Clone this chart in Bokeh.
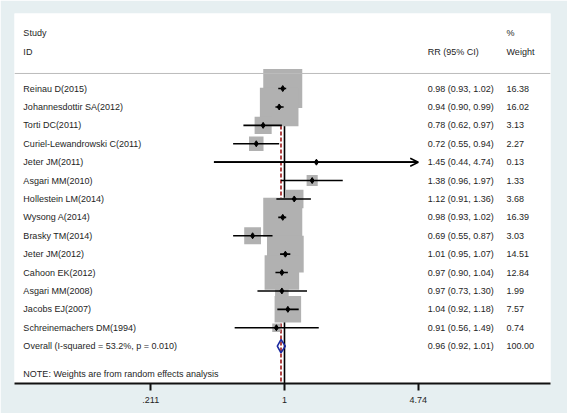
import math
from bokeh.plotting import figure
from bokeh.models import Range1d, FixedTicker, Span, Arrow, OpenHead, ColumnDataSource
from bokeh.core.properties import value
from bokeh.embed import file_html
from bokeh.resources import INLINE

# ---------------- data ----------------
studies = ["Reinau D(2015)", "Johannesdottir SA(2012)", "Torti DC(2011)",
           "Curiel-Lewandrowski C(2011)", "Jeter JM(2011)", "Asgari MM(2010)",
           "Hollestein LM(2014)", "Wysong A(2014)", "Brasky TM(2014)",
           "Jeter JM(2012)", "Cahoon EK(2012)", "Asgari MM(2008)",
           "Jacobs EJ(2007)", "Schreinemachers DM(1994)"]
rr = [0.98, 0.94, 0.78, 0.72, 1.45, 1.38, 1.12, 0.98, 0.69, 1.01, 0.97, 0.97, 1.04, 0.91]
ci_lo = [0.93, 0.90, 0.62, 0.55, 0.44, 0.96, 0.91, 0.93, 0.55, 0.95, 0.90, 0.73, 0.92, 0.56]
ci_hi = [1.02, 0.99, 0.97, 0.94, 4.74, 1.97, 1.36, 1.02, 0.87, 1.07, 1.04, 1.30, 1.18, 1.49]
weight = [16.38, 16.02, 3.13, 2.27, 0.13, 1.33, 3.68, 16.39, 3.03, 14.51, 12.84, 1.99, 7.57, 0.74]

overall_label = "Overall  (I-squared = 53.2%, p = 0.010)"
overall_rr = 0.96
overall_lo = 0.92
overall_hi = 1.01
overall_weight = 100.00

note_text = "NOTE: Weights are from random effects analysis"
header_study = ["Study", "ID"]
header_ci = "RR (95% CI)"
header_weight = ["%", "Weight"]

tick_values = [0.211, 1, 4.74]
tick_labels = [".211", "1", "4.74"]

# ---------------- layout constants ----------------
X_START, X_END = 0.0432, 22.1
Y_TOP, Y_BOTTOM = -4.08, 16.03
X_LABEL = 0.0479
X_CI = 5.29
X_W = 13.25
FONT = value("Liberation Sans")
FSIZE = "9px"
TXT = "#1e1e1e"

n = len(studies)
rows = list(range(n))
overall_row = n

p = figure(width=567, height=413, frame_width=536, frame_height=370,
           x_axis_type="log", x_range=Range1d(X_START, X_END),
           y_range=Range1d(Y_BOTTOM, Y_TOP),
           output_backend="svg", toolbar_location=None,
           min_border_left=14, min_border_right=17, min_border_top=13, min_border_bottom=30)
p.background_fill_color = "white"
p.border_fill_color = "#e6eff1"
p.outline_line_color = None
p.xgrid.visible = False
p.ygrid.visible = False
p.yaxis.visible = False

ax = p.xaxis[0]
ax.ticker = FixedTicker(ticks=tick_values)
ax.major_label_overrides = {v: l for v, l in zip(tick_values, tick_labels)}
ax.axis_line_color = "#111111"
ax.axis_line_width = 2
ax.major_tick_line_color = "#111111"
ax.major_tick_line_width = 2
ax.major_tick_in = 0
ax.major_tick_out = 7
ax.minor_tick_line_color = None
ax.major_label_text_font = "Liberation Sans"
ax.major_label_text_font_size = FSIZE
ax.major_label_text_color = TXT
ax.major_label_standoff = 6

# separator below header
p.add_layout(Span(location=-0.82, dimension="width", line_color="#bcbcbc", line_width=1))

# null line and overall estimate line
p.segment(x0=[1], y0=[-0.6], x1=[1], y1=[Y_BOTTOM], line_color="black", line_width=1.6)
p.segment(x0=[overall_rr], y0=[-0.6], x1=[overall_rr], y1=[Y_BOTTOM],
          line_color="#b04545", line_width=2, line_dash="4 2")

# weight boxes
box_size = [9.64 * math.sqrt(w) for w in weight]
src = ColumnDataSource(dict(y=rows, rr=rr, lo=ci_lo, hi=ci_hi, w=weight, size=box_size))
p.scatter(x="rr", y="y", size="size", marker="square", source=src,
          fill_color="#b1b1b1", line_color=None)

# CIs
p.segment(x0="lo", y0="y", x1="hi", y1="y", source=src, line_color="black", line_width=1.6)
for i in rows:
    if ci_hi[i] >= tick_values[-1]:
        p.add_layout(Arrow(end=OpenHead(size=8, line_width=1.6, line_color="black"),
                           x_start=ci_lo[i], y_start=i, x_end=ci_hi[i], y_end=i,
                           line_color="black", line_width=1.6))

# points
p.scatter(x="rr", y="y", size=6, marker="diamond", source=src,
          fill_color="black", line_color="black")

# overall diamond
h = 0.36
p.patch(x=[overall_lo, overall_rr, overall_hi, overall_rr],
        y=[overall_row, overall_row - h, overall_row, overall_row + h],
        fill_color=None, line_color="#1c2aa0", line_width=1.6)

# texts
labels = studies + [overall_label]
ci_texts = [f"{a:.2f} ({b:.2f}, {c:.2f})" for a, b, c in zip(rr, ci_lo, ci_hi)]
ci_texts.append(f"{overall_rr:.2f} ({overall_lo:.2f}, {overall_hi:.2f})")
w_texts = [f"{w:.2f}" for w in weight] + [f"{overall_weight:.2f}"]
all_rows = rows + [overall_row]

def txt(x, y, t):
    p.text(x=x, y=y, text=t, text_font=FONT, text_font_size=FSIZE,
           text_color=TXT, text_baseline="middle", text_align="left")

txt([X_LABEL] * len(labels), all_rows, labels)
txt([X_CI] * len(ci_texts), all_rows, ci_texts)
txt([X_W] * len(w_texts), all_rows, w_texts)
txt([X_LABEL, X_LABEL], [-3.04, -2.01], header_study)
txt([X_CI], [-2.01], [header_ci])
txt([X_W, X_W], [-3.04, -2.01], header_weight)
txt([X_LABEL], [15.49], [note_text])

open("out.html", "w").write(file_html(p, INLINE))
